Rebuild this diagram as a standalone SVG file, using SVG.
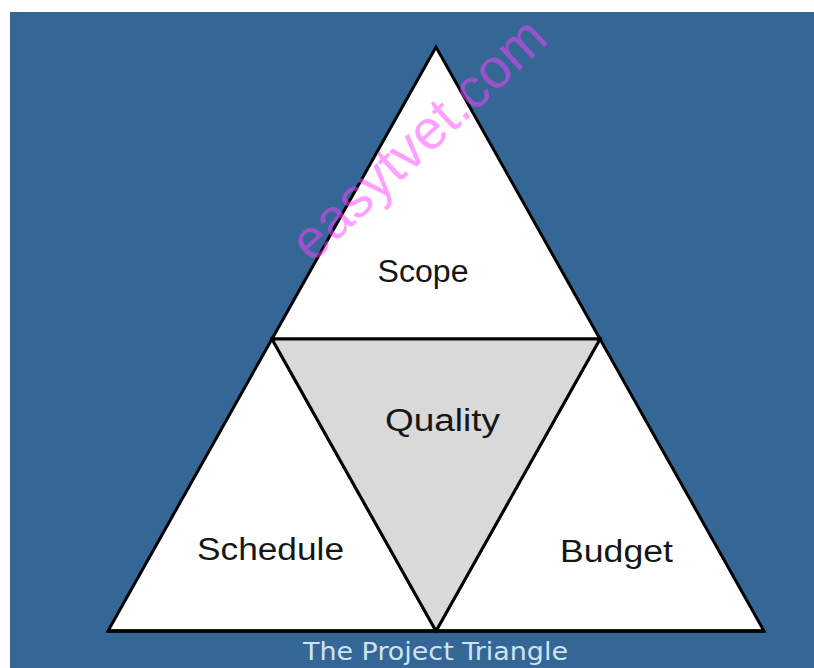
<svg xmlns="http://www.w3.org/2000/svg" width="814" height="668" viewBox="0 0 814 668">
  <style>
    .tri { stroke: #000; stroke-width: 3; stroke-linejoin: miter; }
    .white { fill: #ffffff; }
    .grey { fill: #d9d9d9; }
    .label { font-family: "Liberation Sans", Arial, sans-serif; font-size: 31px; fill: #161616; }
    .caption { font-family: "DejaVu Sans", Verdana, sans-serif; font-size: 24px; fill: #cfe3f4; }
    .mark { font-family: "Liberation Sans", Arial, sans-serif; font-size: 56px; fill: #ff40ff; fill-opacity: 0.5; }
  </style>

  <!-- page and panel background -->
  <rect x="0" y="0" width="814" height="668" fill="#ffffff"/>
  <rect x="10" y="12" width="804" height="656" fill="#346696"/>

  <!-- upper triangle -->
  <g id="scope">
    <polygon class="tri white" points="436,47 272,339 600,339"/>
    <text class="label" x="423" y="282" text-anchor="middle" textLength="91" lengthAdjust="spacingAndGlyphs">Scope</text>
  </g>

  <!-- lower left triangle -->
  <g id="schedule">
    <polygon class="tri white" points="272,339 108,631 436,631"/>
    <text class="label" x="270.5" y="560" text-anchor="middle" textLength="147" lengthAdjust="spacingAndGlyphs">Schedule</text>
  </g>

  <!-- lower right triangle -->
  <g id="budget">
    <polygon class="tri white" points="600,339 436,631 764,631"/>
    <text class="label" x="616.5" y="562" text-anchor="middle" textLength="113" lengthAdjust="spacingAndGlyphs">Budget</text>
  </g>

  <!-- centre (inverted) triangle -->
  <g id="quality">
    <polygon class="tri grey" points="272,339 600,339 436,631"/>
    <text class="label" x="442.5" y="431" text-anchor="middle" textLength="115" lengthAdjust="spacingAndGlyphs">Quality</text>
  </g>

  <!-- base line -->
  <g id="connectors">
    <line x1="107" y1="631" x2="765" y2="631" stroke="#000" stroke-width="3.5"/>
  </g>

  <!-- caption -->
  <text class="caption" x="435.5" y="660" text-anchor="middle" textLength="265" lengthAdjust="spacingAndGlyphs">The Project Triangle</text>

  <!-- diagonal watermark -->
  <text class="mark" transform="translate(312,264) rotate(-43)" textLength="326" lengthAdjust="spacingAndGlyphs">easytvet.com</text>
</svg>
